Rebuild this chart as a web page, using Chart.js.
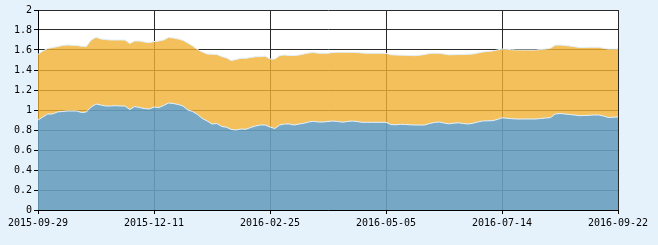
<!DOCTYPE html>
<html>
<head>
<meta charset="utf-8">
<script src="https://cdn.jsdelivr.net/npm/chart.js@4/dist/chart.umd.min.js"></script>
<style>
body { margin: 0; background: #e6f2fb; }
canvas { display: block; }
</style>
</head>
<body>
<canvas id="navChart" width="658" height="245"></canvas>
<script>
// 日期刻度 (每24个点一个刻度)
var xTickLabels = ['2015-09-29', '2015-12-11', '2016-02-25', '2016-05-05', '2016-07-14', '2016-09-22'];
var yTickLabels = ['0', '0.2', '0.4', '0.6', '0.8', '1', '1.2', '1.4', '1.6', '1.8', '2'];

// 下层（蓝）
var blueVals = [
    0.90, 0.93, 0.96, 0.96, 0.98, 0.985, 0.99, 0.99, 0.99, 0.975,
    0.98, 1.03, 1.06, 1.05, 1.04, 1.04, 1.043, 1.04, 1.04, 1.005,
    1.035, 1.025, 1.015, 1.01, 1.03, 1.025, 1.045, 1.07, 1.065, 1.055,
    1.04, 1.0, 0.985, 0.955, 0.915, 0.89, 0.86, 0.865, 0.835, 0.828,
    0.805, 0.80, 0.81, 0.807, 0.825, 0.84, 0.85, 0.85, 0.83, 0.815,
    0.85, 0.86, 0.86, 0.85, 0.86, 0.867, 0.88, 0.887, 0.88, 0.88,
    0.885, 0.89, 0.885, 0.878, 0.885, 0.89, 0.885, 0.877, 0.877, 0.877,
    0.877, 0.877, 0.877, 0.855, 0.852, 0.857, 0.855, 0.852, 0.85, 0.85,
    0.85, 0.865, 0.875, 0.88, 0.87, 0.862, 0.868, 0.872, 0.865, 0.86,
    0.868, 0.88, 0.89, 0.892, 0.893, 0.905, 0.922, 0.918, 0.913, 0.91,
    0.91, 0.91, 0.91, 0.91, 0.915, 0.92, 0.923, 0.96, 0.965, 0.96,
    0.955, 0.95, 0.943, 0.945, 0.947, 0.95, 0.95, 0.94, 0.925, 0.928,
    0.93
];
// 上层（橙）
var orangeVals = [
    0.657, 0.66, 0.655, 0.665, 0.653, 0.66, 0.66, 0.658, 0.655, 0.663,
    0.655, 0.67, 0.667, 0.66, 0.665, 0.66, 0.657, 0.66, 0.66, 0.66,
    0.655, 0.665, 0.665, 0.663, 0.655, 0.665, 0.655, 0.655, 0.655, 0.655,
    0.657, 0.67, 0.655, 0.65, 0.665, 0.67, 0.697, 0.69, 0.70, 0.692,
    0.69, 0.705, 0.707, 0.71, 0.70, 0.693, 0.683, 0.688, 0.68, 0.695,
    0.693, 0.69, 0.685, 0.695, 0.69, 0.693, 0.69, 0.688, 0.688, 0.687,
    0.683, 0.685, 0.692, 0.699, 0.692, 0.687, 0.69, 0.693, 0.69, 0.69,
    0.69, 0.69, 0.69, 0.697, 0.698, 0.691, 0.692, 0.693, 0.693, 0.698,
    0.705, 0.70, 0.692, 0.687, 0.69, 0.69, 0.685, 0.683, 0.69, 0.697,
    0.692, 0.69, 0.69, 0.693, 0.697, 0.695, 0.688, 0.689, 0.69, 0.69,
    0.69, 0.69, 0.69, 0.69, 0.69, 0.69, 0.694, 0.688, 0.685, 0.685,
    0.685, 0.683, 0.682, 0.68, 0.68, 0.677, 0.677, 0.678, 0.685, 0.682,
    0.68
];

function toPoints(arr) {
    return arr.map(function (v, i) { return { x: i, y: v }; });
}

var bgPlugin = {
    id: 'bg',
    beforeDraw: function (c) {
        var ctx = c.ctx, a = c.chartArea;
        ctx.save();
        ctx.fillStyle = '#e6f2fb';
        ctx.fillRect(0, 0, c.width, c.height);
        ctx.fillStyle = '#ffffff';
        ctx.fillRect(a.left, a.top, a.right - a.left, a.bottom - a.top);
        ctx.restore();
    }
};

new Chart(document.getElementById('navChart'), {
    type: 'line',
    data: {
        datasets: [{
            data: toPoints(blueVals),
            fill: 'origin',
            backgroundColor: 'rgba(103, 159, 192, 0.9)',
            borderColor: '#e2f0fa',
            borderWidth: 1,
            pointRadius: 0,
            tension: 0
        }, {
            data: toPoints(orangeVals),
            fill: '-1',
            backgroundColor: 'rgba(241, 176, 51, 0.8)',
            borderColor: '#e2f0fa',
            borderWidth: 1,
            pointRadius: 0,
            tension: 0
        }]
    },
    options: {
        responsive: false,
        animation: false,
        layout: { padding: { top: 10, right: 40, left: 0, bottom: 0 } },
        plugins: {
            legend: false,
            tooltip: { enabled: false }
        },
        scales: {
            x: {
                type: 'linear',
                min: 0,
                max: 120,
                grid: { color: '#2a2a2a', lineWidth: 1, tickLength: 4, tickColor: '#000' },
                border: { color: '#000', width: 1 },
                ticks: {
                    stepSize: 24,
                    maxRotation: 0,
                    padding: 3,
                    color: '#000',
                    font: { family: 'DejaVu Sans Mono', size: 10 },
                    callback: function (v) { return xTickLabels[Math.round(v / 24)]; }
                },
                afterFit: function (s) { s.height = 35; }
            },
            y: {
                stacked: true,
                min: 0,
                max: 2,
                grid: { color: '#2a2a2a', lineWidth: 1, tickLength: 4, tickColor: '#000' },
                border: { color: '#000', width: 1 },
                ticks: {
                    stepSize: 0.2,
                    padding: 2,
                    color: '#000',
                    font: { family: 'DejaVu Sans Mono', size: 10 },
                    callback: function (v) { return yTickLabels[Math.round(v / 0.2)]; }
                },
                afterFit: function (s) { s.width = 38; }
            }
        }
    },
    plugins: [bgPlugin]
});
</script>
</body>
</html>
